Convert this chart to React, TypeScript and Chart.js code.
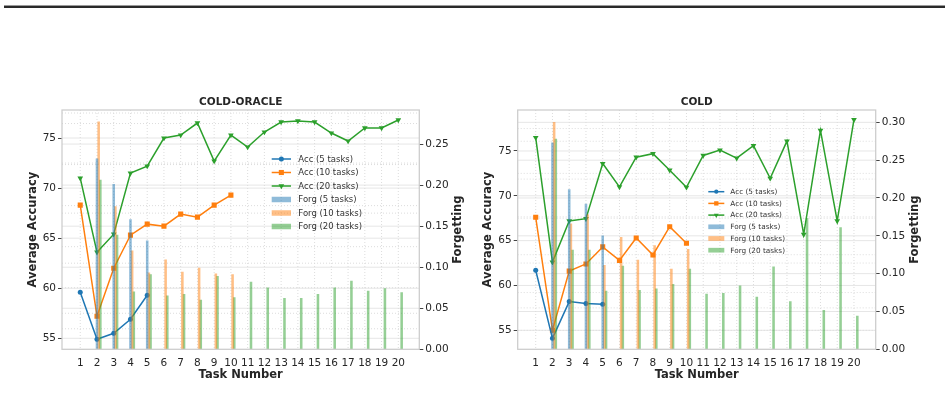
import React, { useEffect, useRef } from "react";
import { Chart, registerables } from "chart.js";

Chart.register(...registerables);

// ---------------- data ----------------
const TASKS = [1, 2, 3, 4, 5, 6, 7, 8, 9, 10, 11, 12, 13, 14, 15, 16, 17, 18, 19, 20];
const ACC_TICKS = [55, 60, 65, 70, 75];
const ORACLE_FORG_TICKS = [0, 0.05, 0.1, 0.15, 0.2, 0.25];
const COLD_FORG_TICKS = [0, 0.05, 0.1, 0.15, 0.2, 0.25, 0.3];

const SERIES_NAMES = [
  "Acc (5 tasks)",
  "Acc (10 tasks)",
  "Acc (20 tasks)",
  "Forg (5 tasks)",
  "Forg (10 tasks)",
  "Forg (20 tasks)",
];

// COLD-ORACLE
const ORACLE_ACC_5 = [59.6, 54.9, 55.5, 56.9, 59.3];
const ORACLE_ACC_10 = [68.3, 57.2, 62.0, 65.3, 66.4, 66.2, 67.4, 67.1, 68.3, 69.3];
const ORACLE_ACC_20 = [71.0, 63.6, 65.4, 71.5, 72.2, 75.0, 75.3, 76.5, 72.7, 75.3, 74.1, 75.6, 76.6, 76.7, 76.6, 75.5, 74.7, 76.0, 76.0, 76.8];
const ORACLE_FORG_5 = [0, 0.232, 0.201, 0.158, 0.132];
const ORACLE_FORG_10 = [0, 0.277, 0.174, 0.12, 0.093, 0.109, 0.094, 0.099, 0.092, 0.091];
const ORACLE_FORG_20 = [0, 0.206, 0.139, 0.07, 0.091, 0.065, 0.067, 0.06, 0.089, 0.063, 0.082, 0.075, 0.062, 0.062, 0.067, 0.075, 0.083, 0.071, 0.074, 0.069];

// COLD
const COLD_ACC_5 = [61.7, 54.1, 58.2, 58.0, 57.9];
const COLD_ACC_10 = [67.6, 55.0, 61.6, 62.4, 64.3, 62.8, 65.3, 63.4, 66.55, 64.7];
const COLD_ACC_20 = [76.5, 62.6, 67.2, 67.45, 73.6, 71.0, 74.3, 74.7, 72.85, 70.95, 74.5, 75.1, 74.2, 75.6, 71.95, 76.1, 65.7, 77.3, 67.2, 78.5];
const COLD_FORG_5 = [0, 0.273, 0.211, 0.192, 0.15];
const COLD_FORG_10 = [0, 0.3, 0.166, 0.178, 0.111, 0.148, 0.118, 0.137, 0.106, 0.132];
const COLD_FORG_20 = [0, 0.278, 0.131, 0.131, 0.077, 0.11, 0.078, 0.08, 0.086, 0.106, 0.073, 0.074, 0.084, 0.069, 0.109, 0.063, 0.173, 0.0515, 0.161, 0.044];

// ---------------- style ----------------
const COLORS = ["#1f77b4", "#ff7f0e", "#2ca02c"];
const BAR_COLORS = ["rgba(31,119,180,0.5)", "rgba(255,127,14,0.5)", "rgba(44,160,44,0.5)"];
const MARKERS = ["circle", "rect", "triangle"];
const BAR_OFFSETS = [0, 0.1, 0.2];
const TEXT = "#262626";
const FONT = '"DejaVu Sans", "Noto Sans", sans-serif';
const CW = 474;
const CH = 409;

type PanelCfg = {
  title: string;
  acc: number[][];
  forg: number[][];
  accRange: [number, number];
  forgRange: [number, number];
  forgTicks: number[];
  xRange: [number, number];
  canvasLeft: number;
  area: { left: number; right: number; top: number; bottom: number };
  yTitleX: number;
  y1TitleX: number;
  legend: { x: number; y: number; rowH: number; len: number; gap: number; font: number; patchH: number; ms: number };
};

const PANELS: PanelCfg[] = [
  {
    title: "COLD-ORACLE",
    acc: [ORACLE_ACC_5, ORACLE_ACC_10, ORACLE_ACC_20],
    forg: [ORACLE_FORG_5, ORACLE_FORG_10, ORACLE_FORG_20],
    accRange: [53.9, 77.8],
    forgRange: [0, 0.2915],
    forgTicks: ORACLE_FORG_TICKS,
    xRange: [-0.09, 21.254],
    canvasLeft: 0,
    area: { left: 62, right: 419.3, top: 110, bottom: 349.3 },
    yTitleX: 32.7,
    y1TitleX: 458.3,
    legend: { x: 271.7, y: 159, rowH: 13.5, len: 19.3, gap: 7.3, font: 8.5, patchH: 5.5, ms: 1 },
  },
  {
    title: "COLD",
    acc: [COLD_ACC_5, COLD_ACC_10, COLD_ACC_20],
    forg: [COLD_FORG_5, COLD_FORG_10, COLD_FORG_20],
    accRange: [52.88, 79.57],
    forgRange: [0, 0.3163],
    forgTicks: COLD_FORG_TICKS,
    xRange: [-0.075, 21.298],
    canvasLeft: 474,
    area: { left: 43.7, right: 401.7, top: 110, bottom: 349.3 },
    yTitleX: 14.3,
    y1TitleX: 441,
    legend: { x: 234.3, y: 191.7, rowH: 11.7, len: 16, gap: 6, font: 7.3, patchH: 4.7, ms: 0.85 },
  },
];

function drawMarker(ctx: CanvasRenderingContext2D, kind: string, x: number, y: number, r: number) {
  ctx.beginPath();
  if (kind === "circle") {
    ctx.arc(x, y, r, 0, Math.PI * 2);
  } else if (kind === "rect") {
    const s = r * Math.SQRT1_2;
    ctx.rect(x - s, y - s, 2 * s, 2 * s);
  } else {
    const h = r;
    ctx.moveTo(x - h * 0.866, y - h * 0.5);
    ctx.lineTo(x + h * 0.866, y - h * 0.5);
    ctx.lineTo(x, y + h);
    ctx.closePath();
  }
  ctx.fill();
}

const POINT_R = [2.5, 3.6, 3.3];

function makeDecor(p: PanelCfg) {
  return {
    id: "decor",
    beforeDatasetsDraw(chart: any) {
      const { ctx, chartArea: a, scales } = chart;
      ctx.save();
      ctx.beginPath();
      ctx.rect(a.left, a.top, a.right - a.left, a.bottom - a.top);
      ctx.clip();
      const h = (py: number, dotted: boolean) => {
        ctx.beginPath();
        ctx.setLineDash(dotted ? [1, 2] : []);
        ctx.strokeStyle = dotted ? "#dcdcdc" : "#e6e6e6";
        ctx.lineWidth = 1;
        ctx.moveTo(a.left, py);
        ctx.lineTo(a.right, py);
        ctx.stroke();
      };
      const ys = scales.y;
      for (let k = Math.ceil(p.accRange[0] / 2.5); k * 2.5 <= p.accRange[1]; k++) {
        h(ys.getPixelForValue(k * 2.5), k % 2 !== 0);
      }
      const y1 = scales.y1;
      for (let k = 1; k * 0.025 <= p.forgRange[1]; k++) {
        h(y1.getPixelForValue(k * 0.025), k % 2 !== 0);
      }
      const xs = scales.x;
      TASKS.forEach((t) => {
        const px = xs.getPixelForValue(t);
        ctx.beginPath();
        ctx.setLineDash([1, 2]);
        ctx.strokeStyle = "#dcdcdc";
        ctx.lineWidth = 1;
        ctx.moveTo(px, a.top);
        ctx.lineTo(px, a.bottom);
        ctx.stroke();
      });
      ctx.restore();
    },
    afterDatasetsDraw(chart: any) {
      const { ctx, chartArea: a } = chart;
      ctx.save();
      ctx.strokeStyle = "#cccccc";
      ctx.lineWidth = 1.25;
      ctx.strokeRect(a.left, a.top, a.right - a.left, a.bottom - a.top);
      ctx.restore();
    },
    afterDraw(chart: any) {
      const { ctx, chartArea: a } = chart;
      ctx.save();
      ctx.fillStyle = TEXT;
      ctx.textAlign = "center";
      ctx.textBaseline = "middle";
      // title
      ctx.font = `bold 10.5px ${FONT}`;
      ctx.fillText(p.title, (a.left + a.right) / 2, 102);
      // axis titles
      ctx.font = `bold 11.5px ${FONT}`;
      ctx.fillText("Task Number", (a.left + a.right) / 2, 375.5);
      const cy = (a.top + a.bottom) / 2;
      [
        ["Average Accuracy", p.yTitleX],
        ["Forgetting", p.y1TitleX],
      ].forEach(([txt, x]) => {
        ctx.save();
        ctx.translate(x as number, cy);
        ctx.rotate(-Math.PI / 2);
        ctx.fillText(txt as string, 0, 0);
        ctx.restore();
      });
      // legend
      const L = p.legend;
      ctx.textAlign = "left";
      ctx.font = `${L.font}px ${FONT}`;
      SERIES_NAMES.forEach((name, i) => {
        const y = L.y + i * L.rowH;
        if (i < 3) {
          ctx.strokeStyle = COLORS[i];
          ctx.lineWidth = 1.5;
          ctx.beginPath();
          ctx.moveTo(L.x, y);
          ctx.lineTo(L.x + L.len, y);
          ctx.stroke();
          ctx.fillStyle = COLORS[i];
          drawMarker(ctx, MARKERS[i], L.x + L.len / 2, y, POINT_R[i] * L.ms);
        } else {
          ctx.fillStyle = BAR_COLORS[i - 3];
          ctx.fillRect(L.x, y - L.patchH / 2, L.len, L.patchH);
        }
        ctx.fillStyle = "#333333";
        ctx.fillText(name, L.x + L.len + L.gap, y + 0.5);
      });
      ctx.restore();
    },
  };
}

function buildConfig(p: PanelCfg): any {
  const lineSets = p.acc.map((arr, i) => ({
    type: "line",
    label: SERIES_NAMES[i],
    yAxisID: "y",
    data: arr.map((v, j) => ({ x: TASKS[j], y: v })),
    borderColor: COLORS[i],
    backgroundColor: COLORS[i],
    borderWidth: 1.5,
    pointStyle: MARKERS[i],
    pointRadius: POINT_R[i],
    pointRotation: i === 2 ? 180 : 0,
    pointBackgroundColor: COLORS[i],
    pointBorderWidth: 0,
    tension: 0,
    fill: false,
    order: 2,
  }));
  const barSets = p.forg.map((arr, i) => ({
    type: "bar",
    label: SERIES_NAMES[i + 3],
    yAxisID: "y1",
    data: arr.map((v, j) => ({ x: TASKS[j] + BAR_OFFSETS[i], y: v })),
    backgroundColor: BAR_COLORS[i],
    borderWidth: 0,
    barThickness: 1.9,
    grouped: false,
    order: 1,
  }));
  const tickFont = { family: FONT, size: 10.5 };
  return {
    type: "line",
    data: { datasets: [...lineSets, ...barSets] },
    options: {
      responsive: false,
      animation: false,
      devicePixelRatio: 1,
      layout: { padding: { top: p.area.top, left: 0, right: 0, bottom: 0 } },
      plugins: { legend: { display: false }, tooltip: { enabled: false }, title: { display: false } },
      scales: {
        x: {
          type: "linear",
          min: p.xRange[0],
          max: p.xRange[1],
          offset: false,
          afterBuildTicks: (s: any) => {
            s.ticks = TASKS.map((v) => ({ value: v }));
          },
          afterFit: (s: any) => {
            s.height = CH - p.area.bottom;
          },
          grid: { display: false },
          border: { display: false },
          ticks: {
            autoSkip: false,
            maxRotation: 0,
            minRotation: 0,
            padding: 0,
            color: TEXT,
            font: tickFont,
            callback: (v: any) => String(v),
          },
        },
        y: {
          type: "linear",
          position: "left",
          min: p.accRange[0],
          max: p.accRange[1],
          afterBuildTicks: (s: any) => {
            s.ticks = ACC_TICKS.map((v) => ({ value: v }));
          },
          afterFit: (s: any) => {
            s.width = p.area.left;
          },
          grid: { drawOnChartArea: false, drawTicks: true, tickLength: 4, tickColor: "#444", tickWidth: 1 },
          border: { display: false },
          ticks: { padding: 2, color: TEXT, font: tickFont, callback: (v: any) => String(v) },
        },
        y1: {
          type: "linear",
          position: "right",
          min: p.forgRange[0],
          max: p.forgRange[1],
          afterBuildTicks: (s: any) => {
            s.ticks = p.forgTicks.map((v) => ({ value: v }));
          },
          afterFit: (s: any) => {
            s.width = CW - p.area.right;
          },
          grid: { drawOnChartArea: false, drawTicks: true, tickLength: 4, tickColor: "#444", tickWidth: 1 },
          border: { display: false },
          ticks: { padding: 2, color: TEXT, font: tickFont, callback: (v: any) => Number(v).toFixed(2) },
        },
      },
    },
    plugins: [makeDecor(p)],
  };
}

function Panel({ p }: { p: PanelCfg }) {
  const ref = useRef<HTMLCanvasElement | null>(null);
  useEffect(() => {
    if (!ref.current) return;
    const chart = new Chart(ref.current, buildConfig(p));
    return () => chart.destroy();
  }, [p]);
  return (
    <canvas
      ref={ref}
      width={CW}
      height={CH}
      style={{ position: "absolute", left: p.canvasLeft, top: 0, width: CW, height: CH }}
    />
  );
}

export default function App() {
  return (
    <div style={{ position: "fixed", left: 0, top: 0, width: 948, height: 409, background: "#fff", overflow: "hidden" }}>
      <div style={{ position: "absolute", left: 4, top: 5, width: 941, height: 1, background: "#9a9a9a" }} />
      <div style={{ position: "absolute", left: 4, top: 6, width: 941, height: 1.5, background: "#2a2a2a" }} />
      {PANELS.map((p) => (
        <Panel key={p.title} p={p} />
      ))}
    </div>
  );
}
